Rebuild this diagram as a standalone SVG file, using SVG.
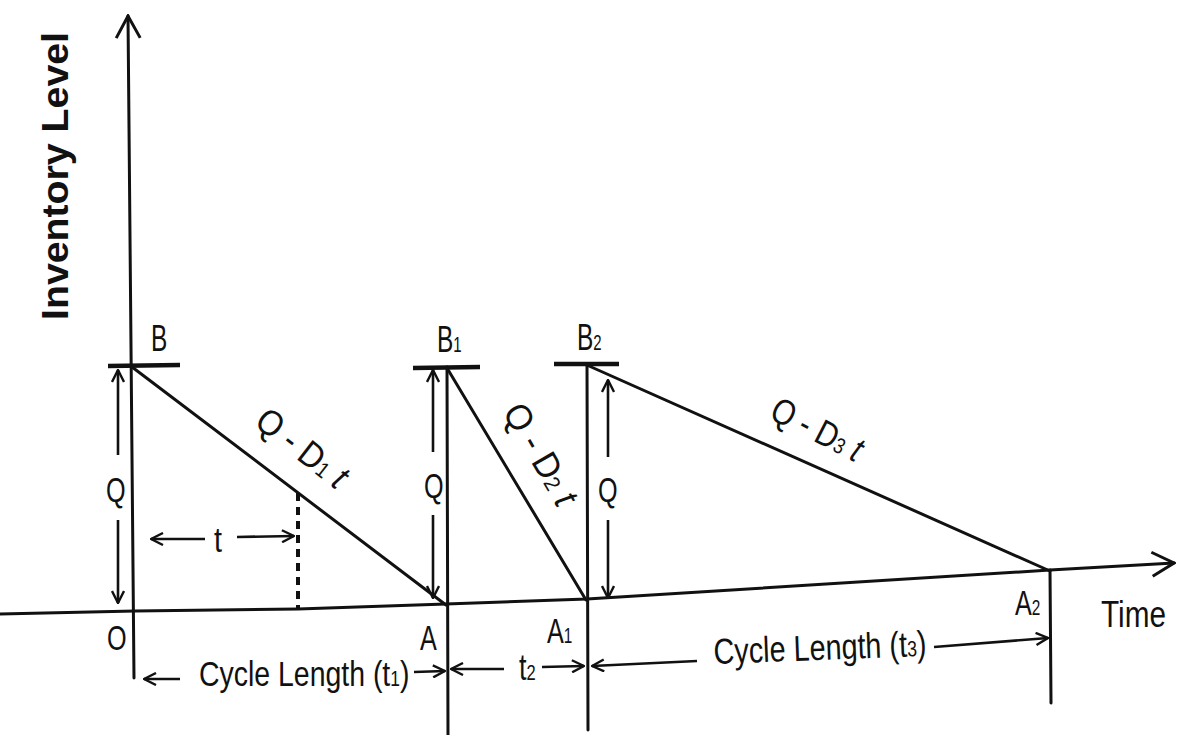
<svg xmlns="http://www.w3.org/2000/svg" width="1178" height="735" viewBox="0 0 1178 735">
<style>
.ln{fill:none;stroke:#111;stroke-width:3;stroke-linecap:round}
.bar{fill:none;stroke:#111;stroke-width:4.5}
.dim{fill:none;stroke:#111;stroke-width:2.6}
.tx{font-family:"Liberation Sans",Arial,sans-serif;fill:#111;font-size:36px}
.sub{font-size:22px}
</style>
<defs>
<marker id="arr" viewBox="0 0 14 14" refX="13" refY="7" markerWidth="14" markerHeight="14" orient="auto-start-reverse" markerUnits="userSpaceOnUse">
<path d="M1,1 L13,7 L1,13" fill="none" stroke="#111" stroke-width="2.4"/>
</marker>
<marker id="big" viewBox="0 0 26 28" refX="24" refY="14" markerWidth="26" markerHeight="28" orient="auto" markerUnits="userSpaceOnUse">
<path d="M2,2 L24,14 L2,26" fill="none" stroke="#111" stroke-width="3"/>
</marker>
</defs>
<rect width="1178" height="735" fill="#fff"/>

<g id="axes">
<line class="ln" x1="134" y1="678" x2="128" y2="16" marker-end="url(#big)"/>
<polyline class="ln" points="0,614 135,611 298,609 446,604 587,599 1050,570 1174,563" marker-end="url(#big)"/>
<text class="tx" font-weight="bold" font-size="34" transform="translate(68,320) rotate(-90)" textLength="288" lengthAdjust="spacingAndGlyphs">Inventory Level</text>
<text class="tx" font-size="33" x="1101" y="627" textLength="65" lengthAdjust="spacingAndGlyphs">Time</text>
</g>

<g id="cycle1">
<line class="bar" x1="108" y1="366" x2="180" y2="365"/>
<line class="ln" x1="132" y1="367" x2="446" y2="605"/>
<line class="dim" x1="118" y1="455" x2="118" y2="370" marker-end="url(#arr)"/>
<line class="dim" x1="118" y1="520" x2="118" y2="603" marker-end="url(#arr)"/>
<line x1="298" y1="493" x2="298" y2="610" stroke="#111" stroke-width="4" stroke-dasharray="8,6"/>
<line class="dim" x1="205" y1="539" x2="151" y2="539" marker-end="url(#arr)"/>
<line class="dim" x1="237" y1="537" x2="294" y2="536" marker-end="url(#arr)"/>
<text class="tx" font-size="34" transform="translate(214,552) scale(0.8,1)">t</text>
<text class="tx" transform="translate(151,351) scale(0.68,1)">B</text>
<text class="tx" transform="translate(106,502) scale(0.7,1)">Q</text>
<text class="tx" transform="translate(107,650) scale(0.7,1)">O</text>
<text class="tx" font-size="30" transform="translate(253,425) rotate(38)" textLength="106" lengthAdjust="spacingAndGlyphs">Q - D<tspan class="sub" font-size="20">1</tspan> <tspan font-style="italic">t</tspan></text>
</g>

<g id="cycle2">
<line class="ln" x1="447" y1="367" x2="448" y2="735"/>
<line class="bar" x1="413" y1="368" x2="480" y2="367"/>
<line class="ln" x1="447" y1="368" x2="586" y2="600"/>
<line class="dim" x1="433" y1="452" x2="433" y2="370" marker-end="url(#arr)"/>
<line class="dim" x1="433" y1="515" x2="433" y2="598" marker-end="url(#arr)"/>
<text class="tx" transform="translate(437,352) scale(0.68,1)">B<tspan class="sub">1</tspan></text>
<text class="tx" transform="translate(424,498) scale(0.7,1)">Q</text>
<text class="tx" transform="translate(420,650) scale(0.7,1)">A</text>
<text class="tx" font-size="30" transform="translate(502,412) rotate(60)" textLength="112" lengthAdjust="spacingAndGlyphs">Q - D<tspan class="sub" font-size="20">2</tspan> <tspan font-style="italic">t</tspan></text>
</g>

<g id="cycle3">
<line class="ln" x1="587" y1="364" x2="588" y2="730"/>
<line class="bar" x1="554" y1="364" x2="619" y2="364"/>
<line class="ln" x1="589" y1="366" x2="1050" y2="571"/>
<line class="ln" x1="1050" y1="570" x2="1051" y2="703"/>
<line class="dim" x1="608" y1="457" x2="608" y2="380" marker-end="url(#arr)"/>
<line class="dim" x1="608" y1="520" x2="608" y2="598" marker-end="url(#arr)"/>
<text class="tx" transform="translate(577,350) scale(0.68,1)">B<tspan class="sub">2</tspan></text>
<text class="tx" transform="translate(598,502) scale(0.7,1)">Q</text>
<text class="tx" transform="translate(547,643) scale(0.7,1)">A<tspan class="sub">1</tspan></text>
<text class="tx" transform="translate(1015,615) scale(0.7,1)">A<tspan class="sub">2</tspan></text>
<text class="tx" font-size="30" transform="translate(768,418) rotate(27)" textLength="98" lengthAdjust="spacingAndGlyphs">Q - D<tspan class="sub" font-size="20">3</tspan> <tspan font-style="italic">t</tspan></text>
</g>

<g id="connectors">
<line class="dim" x1="180" y1="679" x2="144" y2="679" marker-end="url(#arr)"/>
<line class="dim" x1="414" y1="672" x2="445" y2="671" marker-end="url(#arr)"/>
<line class="dim" x1="504" y1="669" x2="451" y2="669" marker-end="url(#arr)"/>
<line class="dim" x1="542" y1="667" x2="584" y2="666" marker-end="url(#arr)"/>
<line class="dim" x1="697" y1="661" x2="592" y2="666" marker-end="url(#arr)"/>
<line class="dim" x1="934" y1="647" x2="1048" y2="638" marker-end="url(#arr)"/>
<text class="tx" transform="translate(199,686) scale(0.79,1)">Cycle Length (t<tspan class="sub">1</tspan>)</text>
<text class="tx" font-size="34" transform="translate(519,680) scale(0.75,1)">t<tspan class="sub">2</tspan></text>
<text class="tx" transform="translate(714,664) rotate(-2.2) scale(0.8,1)">Cycle Length (t<tspan class="sub">3</tspan>)</text>
</g>
</svg>
